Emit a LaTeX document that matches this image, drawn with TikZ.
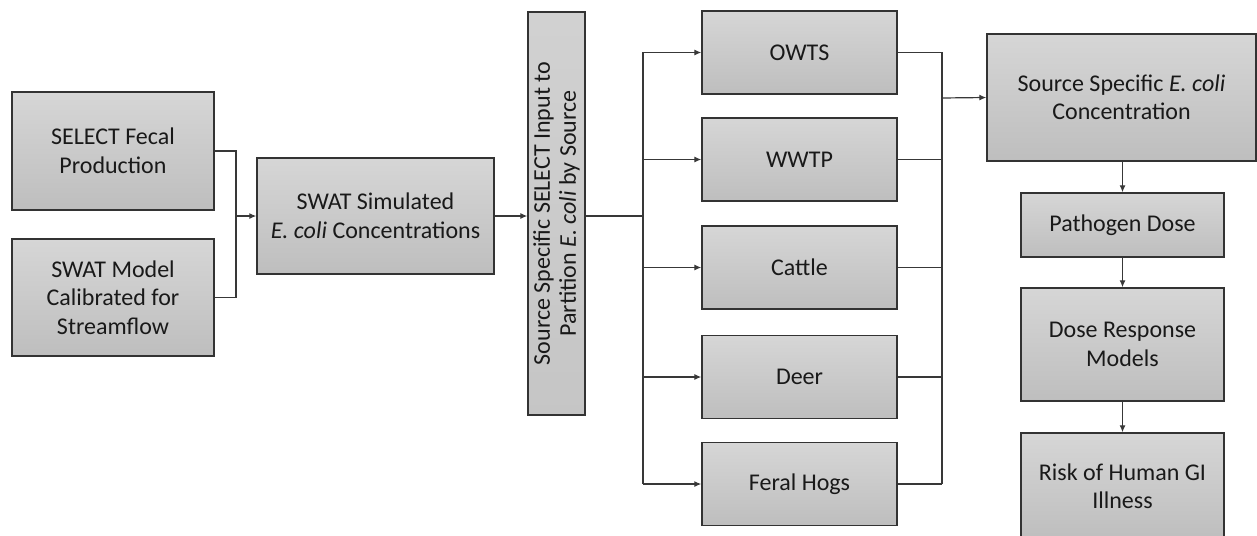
\documentclass[tikz,border=0pt]{standalone}
\usepackage{fontspec}
\setmainfont{Carlito}
\usetikzlibrary{arrows.meta}
\definecolor{bordc}{HTML}{333333}
\definecolor{linec}{HTML}{383838}
\definecolor{lightg}{HTML}{D6D6D6}
\definecolor{darkg}{HTML}{BEBEBE}
\begin{document}
\begin{tikzpicture}[x=1pt,y=-1pt,
  box/.style={draw=bordc,line width=1.4pt,top color=lightg,bottom color=darkg,
    inner sep=0pt,align=center,font=\fontsize{24}{28.5}\selectfont,text=black!90},
  conn/.style={draw=linec,line width=1.2pt},
  arr/.style={conn,-{Latex[length=7pt,width=6pt]}}]
\useasboundingbox (0,0) rectangle (1257,535);
% left column
\node[box,minimum width=202pt,minimum height=118pt] (sel) at (113,151) {SELECT Fecal\\Production};
\node[box,minimum width=202pt,minimum height=117pt] (swm) at (113,297.5) {SWAT Model\\Calibrated for\\Streamflow};
\node[box,minimum width=237pt,minimum height=116pt] (sim) at (375.5,216) {SWAT Simulated\\\textit{E. coli} Concentrations};
\node[box,top color=lightg!80!darkg,bottom color=darkg!70!lightg,minimum width=57pt,minimum height=403pt] (part) at (556.5,213.5) {};
\node[rotate=90,inner sep=0pt,align=center,font=\fontsize{24}{26}\selectfont,text=black!90] (partlbl) at (part.center) {Source Specific SELECT Input to\\Partition \textit{E. coli} by Source};
% middle column
\node[box,minimum width=195pt,minimum height=83pt] (owts) at (799.5,52.5) {OWTS};
\node[box,minimum width=195pt,minimum height=83pt] (wwtp) at (799.5,159.5) {WWTP};
\node[box,minimum width=195pt,minimum height=83pt] (cattle) at (799.5,267.5) {Cattle};
\node[box,minimum width=195pt,minimum height=83pt] (deer) at (799.5,377) {Deer};
\node[box,minimum width=195pt,minimum height=83pt] (hogs) at (799.5,484) {Feral Hogs};
% right column
\node[box,minimum width=269pt,minimum height=127pt] (ssc) at (1121.5,97.5) {Source Specific \textit{E. coli}\\Concentration};
\node[box,minimum width=203pt,minimum height=64pt] (dose) at (1122.5,225) {Pathogen Dose};
\node[box,minimum width=203pt,minimum height=113pt] (resp) at (1122.5,344.5) {Dose Response\\Models};
\node[box,minimum width=203pt,minimum height=106pt] (risk) at (1122.5,486) {Risk of Human GI\\Illness};
% connectors left
\coordinate (j1) at (236,216);
\draw[conn] (sel.east) -| (j1) |- (swm.east);
\draw[arr] (j1) -- (sim.west);
\draw[arr] (sim.east) -- (sim.east -| part.west);
% fan out
\coordinate (t1) at (643,216);
\draw[conn] (t1 -| part.east) -- (t1);
\draw[conn] (owts.west -| t1) -- (hogs.west -| t1);
\foreach \n in {owts,wwtp,cattle,deer,hogs}{\draw[arr] (\n.west -| t1) -- (\n.west);}
% fan in
\coordinate (t2) at (942,98);
\foreach \n in {owts,wwtp,cattle,deer,hogs}{\draw[conn] (\n.east) -- (\n.east -| t2);}
\draw[conn] (owts.east -| t2) -- (hogs.east -| t2);
\draw[arr] (t2) -- (ssc.west);
% down chain
\draw[arr] (ssc.south -| dose.north) -- (dose.north);
\draw[arr] (dose.south) -- (resp.north);
\draw[arr] (resp.south) -- (risk.north);
\end{tikzpicture}
\end{document}
